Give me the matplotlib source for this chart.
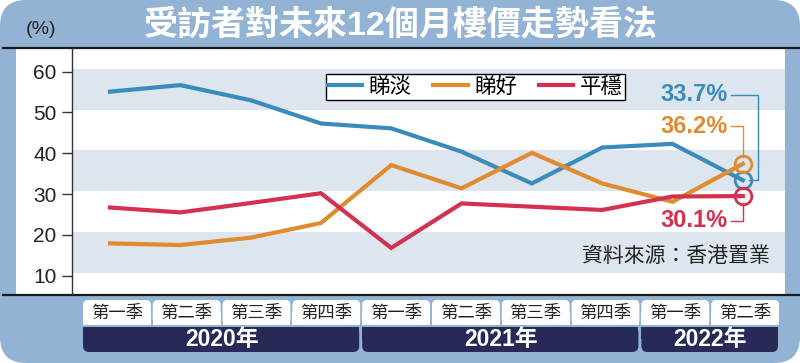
import matplotlib
matplotlib.use('Agg')
import matplotlib.pyplot as plt
from matplotlib.patches import FancyBboxPatch, Rectangle

plt.rcParams['font.family'] = ['Noto Sans CJK TC', 'DejaVu Sans']

title = '受訪者對未來12個月樓價走勢看法'
quarters = ['第一季', '第二季', '第三季', '第四季',
            '第一季', '第二季', '第三季', '第四季',
            '第一季', '第二季']
years = ['2020年', '2021年', '2022年']
quarters_per_year = [4, 4, 2]

# 睇淡 / 睇好 / 平穩 (%)
bearish = [55.1, 56.7, 53.0, 47.3, 46.1, 40.4, 32.6, 41.4, 42.3, 33.4]
bullish = [17.9, 17.5, 19.3, 22.9, 37.1, 31.4, 40.1, 32.6, 28.1, 37.4]
stable = [26.7, 25.5, 27.8, 30.2, 16.8, 27.7, 26.9, 26.1, 29.4, 29.5]
series_names = ['睇淡', '睇好', '平穩']
end_labels = ['33.7%', '36.2%', '30.1%']
yticks = [10, 20, 30, 40, 50, 60]
source = '資料來源：香港置業'

BG = '#93b3d4'
BAND = '#dde5ee'
NAVY = '#272a57'
INK = '#222222'
colors = ['#3a8bbd', '#e08b2f', '#d4304f']
num_font = ['Liberation Sans', 'Noto Sans CJK TC']

W, H = 800, 363
fig = plt.figure(figsize=(8, 3.63), dpi=100)
fig.patch.set_facecolor('white')

# background layer, in pixel coordinates
bg = fig.add_axes([0, 0, 1, 1], zorder=0)
bg.set_xlim(0, W)
bg.set_ylim(H, 0)
bg.axis('off')
bg.add_patch(FancyBboxPatch((0, 0), W, H, boxstyle='round,pad=0,rounding_size=26',
                            fc=BG, ec='none'))
bg.add_patch(Rectangle((16, 48), 769, 246, fc='white', ec='none'))
bg.plot([3, W], [48, 48], color='#1b1b1b', lw=1.6)
bg.plot([3, W], [294.5, 294.5], color='#1b1b1b', lw=1.6)

bg.text(401, 25, title, fontsize=24.5, weight='bold', color='white',
        ha='center', va='center', family=num_font)
bg.text(41, 30, '(%)', fontsize=14, color=INK, ha='center', va='center',
        family=num_font)

# quarter tabs and year bars
tab_x0, tab_w = 82, 69.8
for i, q in enumerate(quarters):
    x = tab_x0 + i * tab_w
    bg.add_patch(FancyBboxPatch((x + 1, 300), tab_w - 2, 25,
                                boxstyle='round,pad=0,rounding_size=5',
                                fc='white', ec='none'))
    bg.add_patch(Rectangle((x + 1, 312), tab_w - 2, 13, fc='white', ec='none'))
    bg.text(x + tab_w / 2, 313, q, fontsize=12.5, color=INK, ha='center', va='center')

start = 0
for yr, n in zip(years, quarters_per_year):
    x = tab_x0 + start * tab_w
    w = n * tab_w
    bg.add_patch(FancyBboxPatch((x + 1, 327), w - 3, 25,
                                boxstyle='round,pad=0,rounding_size=6',
                                fc=NAVY, ec='none'))
    bg.add_patch(Rectangle((x + 1, 327), w - 3, 12, fc=NAVY, ec='none'))
    bg.text(x + w / 2, 339.5, yr, fontsize=16.5, weight='bold', color='white',
            ha='center', va='center', family=num_font)
    start += n

# chart
ax = fig.add_axes([72 / W, (H - 294) / H, (785 - 72) / W, (294 - 48) / H], zorder=1)
ax.set_facecolor('none')
x = list(range(len(quarters)))
ax.set_xlim(-0.54, 9.6)
ax.set_ylim(5.5, 65.8)

for lo in (10, 30, 50):
    ax.axhspan(lo + 0.7, lo + 10.7, color=BAND, zorder=0, lw=0)

ax.text(770, 256, source, fontsize=15, color=INK, ha='right', va='center',
        transform=bg.transData, zorder=5)

handles = []
for vals, name, c in zip([bearish, bullish, stable], series_names, colors):
    h, = ax.plot(x, vals, color=c, lw=3, label=name, zorder=3,
                 solid_joinstyle='miter')
    handles.append(h)
    ax.plot(x[-1], vals[-1], 'o', ms=12, mfc='none', mec=c, mew=2, zorder=4)

for s in ('top', 'right', 'bottom'):
    ax.spines[s].set_visible(False)
ax.spines['left'].set_color('#333333')
ax.spines['left'].set_linewidth(1)
ax.set_xticks([])
ax.set_yticks(yticks)
ax.tick_params(axis='y', length=7, width=1, color='#333333', labelsize=15,
               labelcolor=INK, pad=4)
for t in ax.get_yticklabels():
    t.set_family(num_font)

leg = ax.legend(handles=handles, ncol=3, loc='upper left',
                bbox_to_anchor=(0.356, 0.895), fontsize=15.5, frameon=True,
                fancybox=False, edgecolor='black', framealpha=1,
                handlelength=1.6, handletextpad=0.3, columnspacing=1.0,
                borderpad=0.1, borderaxespad=0)
leg.get_frame().set_linewidth(1)

# end-value labels with connectors
rx, ry = 0.092, 1.6
xe = x[-1]
label_y = [54.4, 46.6, 23.4]
text_x = 8.78
line_x0 = 8.83
last = [bearish[-1], bullish[-1], stable[-1]]

for lab, ly, v, c in zip(end_labels, label_y, last, colors):
    ax.text(text_x, ly, lab, fontsize=17, weight='bold', color=c,
            ha='right', va='center', family=num_font)

# 睇淡: right side loop into the circle
ax.plot([line_x0, xe + 0.22, xe + 0.22, xe + rx], [label_y[0], label_y[0], last[0], last[0]],
        color=colors[0], lw=1, zorder=2)
# 睇好: down to top of circle
ax.plot([line_x0, xe, xe], [label_y[1], label_y[1], last[1] + ry],
        color=colors[1], lw=1, zorder=2)
# 平穩: up to bottom of circle
ax.plot([line_x0, xe, xe], [label_y[2], label_y[2], last[2] - ry],
        color=colors[2], lw=1, zorder=2)

fig.savefig('out.png', dpi=100)
